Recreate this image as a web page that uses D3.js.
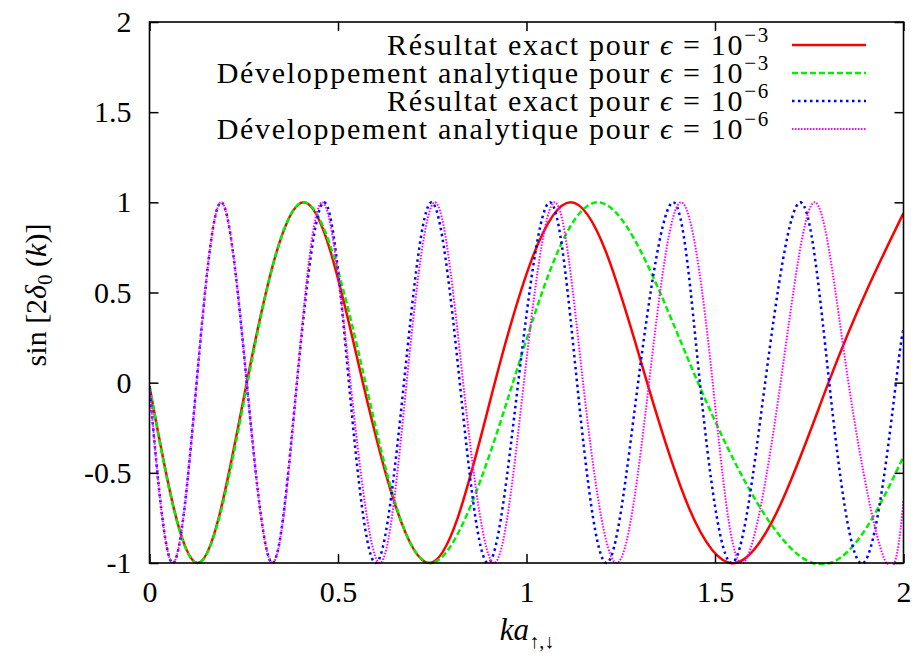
<!DOCTYPE html>
<html><head><meta charset="utf-8">
<script src="https://cdn.jsdelivr.net/npm/d3@7"></script>
<style>body{margin:0;background:#fff}svg{display:block}text{font-family:"Liberation Serif","DejaVu Serif",serif;fill:#000}</style>
</head><body><svg id="c" width="917" height="658"></svg>
<script>
// Data (ka, sin[2δ0(k)])
const kRed = [0, 0.128, 0.258, 0.409, 0.566, 0.742, 0.916, 1.117, 1.320, 1.553, 1.801, 2.0];
const yRed = [-0.02, -1, 0, 1, 0, -1, 0, 1, 0, -1, 0, 0.94];
const kGreen = [0, 0.128, 0.260, 0.409, 0.573, 0.745, 0.964, 1.190, 1.455, 1.759, 2.0];
const yGreen = [-0.02, -1, 0, 1, 0, -1, 0, 1, 0, -1, -0.41];
const kBlue = [0, 0.062, 0.125, 0.190, 0.258, 0.326, 0.391, 0.463, 0.529, 0.600, 0.675, 0.748, 0.823, 0.898, 0.978, 1.062, 1.134, 1.212, 1.296, 1.389, 1.460, 1.544, 1.633, 1.726, 1.803, 1.894, 1.980, 2.0];
const yBlue = [-0.02, -1, 0, 1, 0, -1, 0, 1, 0, -1, 0, 1, 0, -1, 0, 1, 0, -1, 0, 1, 0, -1, 0, 1, 0, -1, 0, 0.28];
const kMagenta = [0, 0.062, 0.125, 0.190, 0.258, 0.326, 0.391, 0.458, 0.533, 0.611, 0.682, 0.757, 0.832, 0.914, 0.993, 1.075, 1.150, 1.239, 1.325, 1.410, 1.494, 1.571, 1.674, 1.765, 1.854, 1.954, 2.0];
const yMagenta = [-0.02, -1, 0, 1, 0, -1, 0, 1, 0, -1, 0, 1, 0, -1, 0, 1, 0, -1, 0, 1, 0, -1, 0, 1, 0, -1, -0.65];
const xTicks = [0, 0.5, 1, 1.5, 2];
const xTickLabels = ["0", "0.5", "1", "1.5", "2"];
const yTicks = [-1, -0.5, 0, 0.5, 1, 1.5, 2];
const yTickLabels = ["-1", "-0.5", "0", "0.5", "1", "1.5", "2"];
const legendEps = ["3", "3", "6", "6"];
const legendNames = ["Résultat exact pour", "Développement analytique pour", "Résultat exact pour", "Développement analytique pour"];

const svg = d3.select("#c");
const L = 149.5, R = 903.5, T = 22, B = 563;
const x = d3.scaleLinear().domain([0, 2]).range([L, R]);
const y = d3.scaleLinear().domain([-1, 2]).range([B, T]);

const series = [
  {k: kRed, v: yRed, color: "#ff0000", w: 2.5, dash: null},
  {k: kGreen, v: yGreen, color: "#00f000", w: 2.5, dash: "6,3"},
  {k: kBlue, v: yBlue, color: "#0000ff", w: 2.5, dash: "2.5,3.5"},
  {k: kMagenta, v: yMagenta, color: "#ff00ff", w: 2, dash: "1.5,1.5"}
];

svg.append("clipPath").attr("id", "clip").append("rect")
  .attr("x", L).attr("y", T - 2).attr("width", R - L).attr("height", B - T + 4);

const line = d3.line().x(d => x(d[0])).y(d => y(d[1])).curve(d3.curveNatural);
const g = svg.append("g").attr("clip-path", "url(#clip)");
series.forEach(s => {
  const pts = s.k.map((k, i) => [k, s.v[i]]);
  g.append("path").attr("d", line(pts)).attr("fill", "none")
    .attr("stroke", s.color).attr("stroke-width", s.w)
    .attr("stroke-dasharray", s.dash);
});

// axes (gnuplot style: inward ticks on all four sides)
const tl = 9;
const axB = svg.append("g").attr("transform", `translate(0,${B})`)
  .call(d3.axisBottom(x).tickValues(xTicks).tickFormat((d, i) => xTickLabels[i]).tickSizeInner(-tl).tickSizeOuter(0).tickPadding(18));
const axT = svg.append("g").attr("transform", `translate(0,${T})`)
  .call(d3.axisTop(x).tickValues(xTicks).tickFormat("").tickSizeInner(-tl).tickSizeOuter(0));
const axL = svg.append("g").attr("transform", `translate(${L},0)`)
  .call(d3.axisLeft(y).tickValues(yTicks).tickFormat((d, i) => yTickLabels[i]).tickSizeInner(-tl).tickSizeOuter(0).tickPadding(18));
const axR = svg.append("g").attr("transform", `translate(${R},0)`)
  .call(d3.axisRight(y).tickValues(yTicks).tickFormat("").tickSizeInner(-tl).tickSizeOuter(0));
[axB, axT, axL, axR].forEach(a => {
  a.select(".domain").remove();
  a.selectAll("line").attr("stroke", "#000").attr("stroke-width", 1.5);
  a.selectAll("text").attr("font-family", "Liberation Serif, serif").attr("font-size", 30).attr("fill", "#000");
});
svg.append("rect").attr("x", L).attr("y", T).attr("width", R - L).attr("height", B - T)
  .attr("fill", "none").attr("stroke", "#000").attr("stroke-width", 1.6);

// legend
const lg = svg.append("g");
const rowY = [45, 73, 101, 129];
legendNames.forEach((name, i) => {
  const t = lg.append("text").attr("x", 770).attr("y", rowY[i] + 10).attr("text-anchor", "end")
    .attr("font-size", 30).attr("letter-spacing", 1.7);
  t.append("tspan").text(name + " ");
  t.append("tspan").attr("font-style", "italic").text("ϵ");
  t.append("tspan").text(" = 10");
  t.append("tspan").attr("font-size", 21).attr("dy", -13).text("−" + legendEps[i]);
  const s = series[i];
  lg.append("line").attr("x1", 792).attr("x2", 866).attr("y1", rowY[i]).attr("y2", rowY[i])
    .attr("stroke", s.color).attr("stroke-width", s.w).attr("stroke-dasharray", s.dash);
});

// axis titles
const yl = svg.append("text").attr("transform", "translate(46,295) rotate(-90)").attr("text-anchor", "middle").attr("font-size", 30);
yl.append("tspan").text("sin [2");
yl.append("tspan").attr("font-style", "italic").text("δ");
yl.append("tspan").attr("font-size", 21).attr("dy", 6).text("0");
yl.append("tspan").attr("dy", -6).text(" (");
yl.append("tspan").attr("font-style", "italic").text("k");
yl.append("tspan").text(")]");

const xl = svg.append("text").attr("x", 527).attr("y", 640).attr("text-anchor", "middle").attr("font-size", 31);
xl.append("tspan").attr("font-style", "italic").text("ka");
xl.append("tspan").attr("font-size", 20).attr("dy", 8).text("↑,↓");
</script></body></html>
